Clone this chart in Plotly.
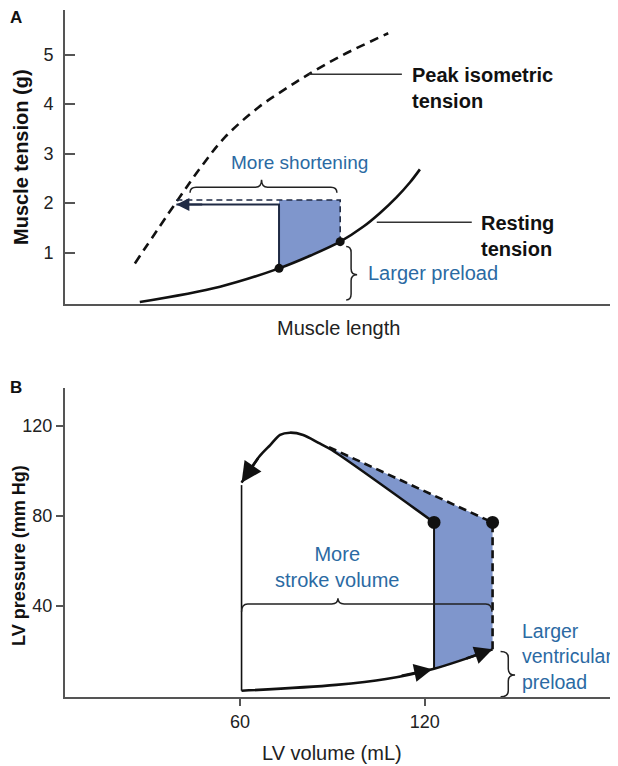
import plotly.graph_objects as go

# ---------------- Panel A data (arbitrary muscle-length units 0-100) -------------
peak_len = [12.8, 20.2, 25.0, 29.3, 35.4, 40.3, 44.6, 50.7, 59.2]
peak_ten = [0.78, 1.99, 2.74, 3.33, 3.93, 4.30, 4.60, 4.98, 5.43]
rest_len = [13.7, 28.4, 39.2, 45.0, 50.4, 54.6, 57.7, 60.75, 63.2, 65.0]
rest_ten = [0.0, 0.31, 0.68, 0.94, 1.22, 1.52, 1.80, 2.12, 2.42, 2.68]
preload_len = [39.2, 50.4]        # normal / larger preload length
preload_ten = [0.68, 1.22]
afterload_ten = [1.97, 2.06]      # solid (normal) / dashed (larger preload)
shortened_len = 20.4              # length reached on peak isometric curve
a_yticks = [1, 2, 3, 4, 5]

# ---------------- Panel B data ---------------------------------------------------
fill_vol = [60.5, 91.2, 107.4, 123.0, 142.0]
fill_p = [2.2, 4.8, 7.4, 12.0, 20.6]
ejec_vol = [123.0, 89.8, 85.5, 80.5, 76.2, 73.0, 69.8, 66.2, 60.5]
ejec_p = [77.0, 109.2, 112.4, 115.9, 116.9, 115.9, 111.4, 106.2, 94.7]
edv = [123.0, 142.0]              # end-diastolic volumes (normal / larger)
edp = [12.0, 20.6]
open_p = [77.0, 77.0]             # aortic valve opening pressure
dashed_join = [88.0, 111.0]
esv = 60.5
esv_line_top = 93.6
b_xticks = [60, 120]
b_yticks = [40, 80, 120]

FONT = "Liberation Sans, Arial, Helvetica, sans-serif"
BLUE_TXT = "#2b6aa3"
FILL = "#7f96cc"
DARK = "#111111"
NAVY = "#1f2a44"

# page offset (default body margin) and figure size
OFF = 8
W, H = 618 - OFF, 766 - OFF


def px(x):
    return (x - OFF) / W


def py(y):
    return 1 - (y - OFF) / H


fig = go.Figure()

# ---------- Panel A traces ----------
lo = rest_len.index(preload_len[0])
hi = rest_len.index(preload_len[1])
sx = rest_len[lo:hi + 1] + [preload_len[1], preload_len[0]]
sy = rest_ten[lo:hi + 1] + [afterload_ten[1], afterload_ten[1]]
fig.add_trace(go.Scatter(x=sx, y=sy, fill="toself", fillcolor=FILL, mode="lines",
                         line=dict(width=0), xaxis="x", yaxis="y", hoverinfo="skip"))
fig.add_trace(go.Scatter(x=peak_len, y=peak_ten, mode="lines",
                         line=dict(color=DARK, width=2.6, dash="9px,6px", shape="spline"),
                         xaxis="x", yaxis="y"))
fig.add_trace(go.Scatter(x=rest_len, y=rest_ten, mode="lines", line=dict(color=DARK, width=2.6, shape="spline"),
                         xaxis="x", yaxis="y"))
fig.add_trace(go.Scatter(x=[shortened_len, preload_len[0], preload_len[0]],
                         y=[afterload_ten[0], afterload_ten[0], preload_ten[0]],
                         mode="lines", line=dict(color=NAVY, width=2), xaxis="x", yaxis="y"))
fig.add_trace(go.Scatter(x=[shortened_len, preload_len[1], preload_len[1]],
                         y=[afterload_ten[1], afterload_ten[1], preload_ten[1]],
                         mode="lines", line=dict(color=NAVY, width=1.6, dash="6px,4px"), xaxis="x", yaxis="y"))
fig.add_trace(go.Scatter(x=preload_len, y=preload_ten, mode="markers",
                         marker=dict(color=DARK, size=9), xaxis="x", yaxis="y"))
# leader lines
fig.add_trace(go.Scatter(x=[peak_len[6], 61.7], y=[peak_ten[6], peak_ten[6]], mode="lines",
                         line=dict(color="#333", width=1.5), xaxis="x", yaxis="y"))
fig.add_trace(go.Scatter(x=[57.1, 74.5], y=[1.61, 1.61], mode="lines",
                         line=dict(color="#333", width=1.5), xaxis="x", yaxis="y"))

# ---------- Panel B traces ----------
bx = [edv[0], edv[1], edv[1], dashed_join[0], ejec_vol[1], edv[0]]
by = [edp[0], edp[1], open_p[1], dashed_join[1], ejec_p[1], open_p[0]]
fig.add_trace(go.Scatter(x=bx, y=by, fill="toself", fillcolor=FILL, mode="lines",
                         line=dict(width=0), xaxis="x2", yaxis="y2", hoverinfo="skip"))
fig.add_trace(go.Scatter(x=[esv, esv], y=[fill_p[0], esv_line_top], mode="lines",
                         line=dict(color=DARK, width=1.6), xaxis="x2", yaxis="y2"))
fig.add_trace(go.Scatter(x=fill_vol, y=fill_p, mode="lines", line=dict(color=DARK, width=2.6, shape="spline"),
                         xaxis="x2", yaxis="y2"))
fig.add_trace(go.Scatter(x=[edv[0], edv[0]], y=[edp[0], open_p[0]], mode="lines",
                         line=dict(color=DARK, width=2), xaxis="x2", yaxis="y2"))
fig.add_trace(go.Scatter(x=[edv[1], edv[1], dashed_join[0]], y=[edp[1], open_p[1], dashed_join[1]], mode="lines",
                         line=dict(color=DARK, width=2.6, dash="8px,5px"), xaxis="x2", yaxis="y2"))
fig.add_trace(go.Scatter(x=ejec_vol, y=ejec_p, mode="lines",
                         line=dict(color=DARK, width=2.6, shape="spline", smoothing=0.8),
                         xaxis="x2", yaxis="y2"))
fig.add_trace(go.Scatter(x=edv, y=open_p, mode="markers", marker=dict(color=DARK, size=13),
                         xaxis="x2", yaxis="y2"))


def hbrace(x0, x1, xm, y, h_end, h_tip, r, xref, yref):
    p = (f"M {x0},{y - h_end} Q {x0},{y} {x0 + r},{y} L {xm - r},{y} "
         f"Q {xm},{y} {xm},{y + h_tip} Q {xm},{y} {xm + r},{y} L {x1 - r},{y} "
         f"Q {x1},{y} {x1},{y - h_end}")
    return dict(type="path", path=p, xref=xref, yref=yref, line=dict(color="#222", width=1.5))


def vbrace(x, y0, y1, ym, w_end, w_tip, r, xref, yref):
    p = (f"M {x - w_end},{y1} Q {x},{y1} {x},{y1 - r} L {x},{ym + r} "
         f"Q {x},{ym} {x + w_tip},{ym} Q {x},{ym} {x},{ym - r} L {x},{y0 + r} "
         f"Q {x},{y0} {x - w_end},{y0}")
    return dict(type="path", path=p, xref=xref, yref=yref, line=dict(color="#222", width=1.5))


shapes = [
    hbrace(22.9, 49.8, 36.0, 2.32, 0.11, 0.15, 1.1, "x", "y"),
    vbrace(52.4, 0.04, preload_ten[1] - 0.1, 0.55, 0.9, 1.1, 0.12, "x", "y"),
    hbrace(esv, edv[1] - 0.2, 91.8, 40.8, 3.5, 2.5, 2.0, "x2", "y2"),
    vbrace(147.1, -0.5, edp[1] - 1.0, 9.2, 2.5, 2.2, 2.7, "x2", "y2"),
]

arrow_style = dict(showarrow=True, arrowhead=2, arrowsize=1.5, arrowwidth=2.4, arrowcolor=DARK,
                   standoff=0, text="")
annotations = [
    dict(x=shortened_len, y=afterload_ten[0], ax=shortened_len + 5, ay=afterload_ten[0],
         xref="x", yref="y", axref="x", ayref="y",
         **{**arrow_style, "arrowcolor": NAVY, "arrowwidth": 2, "arrowsize": 1.3}),
    dict(x=ejec_vol[-1], y=ejec_p[-1], ax=ejec_vol[-2], ay=ejec_p[-2],
         xref="x2", yref="y2", axref="x2", ayref="y2", **{**arrow_style, "arrowsize": 1.7}),
    dict(x=edv[0] - 0.6, y=edp[0] - 0.2, ax=112.0, ay=8.8,
         xref="x2", yref="y2", axref="x2", ayref="y2", **arrow_style),
    dict(x=edv[1], y=edp[1], ax=133.0, ay=16.3,
         xref="x2", yref="y2", axref="x2", ayref="y2", **arrow_style),
]


def txt(text, x, y, xref, yref, size=20, color=BLUE_TXT, bold=False, xanchor="center", yanchor="middle",
        align="center", angle=0):
    t = f"<b>{text}</b>" if bold else text
    return dict(text=t, x=x, y=y, xref=xref, yref=yref, showarrow=False, xanchor=xanchor, yanchor=yanchor,
                align=align, textangle=angle, font=dict(family=FONT, size=size, color=color))


annotations += [
    txt("More shortening", 43.0, 2.82, "x", "y", size=19),
    txt("<b>Peak isometric</b><br><b>tension</b>", 63.1, 4.32, "x", "y", color=DARK, xanchor="left", align="left"),
    txt("<b>Resting</b><br><b>tension</b>", 75.9, 1.33, "x", "y", color=DARK, xanchor="left", align="left"),
    txt("Larger preload", 55.1, 0.58, "x", "y", xanchor="left", align="left"),
    txt("More<br>stroke volume", 91.8, 57.0, "x2", "y2"),
    txt("Larger<br>ventricular<br>preload", 150.8, 17.6, "x2", "y2", size=19.5, xanchor="left", align="left"),
    txt("A", px(8), py(18), "paper", "paper", size=17, color=DARK, bold=True, xanchor="left"),
    txt("B", px(8), py(387), "paper", "paper", size=17, color=DARK, bold=True, xanchor="left"),
    txt("Muscle tension (g)", px(8), py(157), "paper", "paper", size=20, color=DARK, bold=True, angle=-90,
        xanchor="left"),
    txt("LV pressure (mm Hg)", px(7), py(556), "paper", "paper", size=18, color=DARK, bold=True, angle=-90,
        xanchor="left"),
    txt("Muscle length", px(338), py(328), "paper", "paper", size=20, color="#222"),
    txt("LV volume (mL)", px(332), py(753), "paper", "paper", size=20, color="#222"),
]

xdom = [px(65), px(611)]
axis_common = dict(showgrid=False, zeroline=False, showline=True, linecolor="#555", linewidth=2, automargin=False,
                   tickfont=dict(family=FONT, size=18, color="#222"), tickcolor="#555", tickwidth=1.5)
axis_noticks = {k: v for k, v in axis_common.items() if k != "tickfont"}

fig.update_layout(
    template="none",
    width=W, height=H, margin=dict(l=0, r=0, t=0, b=0, pad=0, autoexpand=False),
    paper_bgcolor="white", plot_bgcolor="white", showlegend=False,
    font=dict(family=FONT),
    xaxis=dict(domain=xdom, range=[0, 100], anchor="y", showticklabels=False, ticks="", **axis_noticks),
    yaxis=dict(domain=[py(304), py(10)], range=[-0.04, 5.9], anchor="x", tickvals=a_yticks,
               ticks="inside", ticklen=10, ticklabelstandoff=6, **axis_common),
    xaxis2=dict(domain=xdom, range=[3.18, 180.45], anchor="y2", tickvals=b_xticks, ticks="outside", ticklen=7,
                **axis_common),
    yaxis2=dict(domain=[py(697), py(388)], range=[-0.58, 136.76], anchor="x2", tickvals=b_yticks,
                ticks="outside", ticklen=7, **axis_common),
    shapes=shapes,
    annotations=annotations,
)

fig.write_html("out.html")
